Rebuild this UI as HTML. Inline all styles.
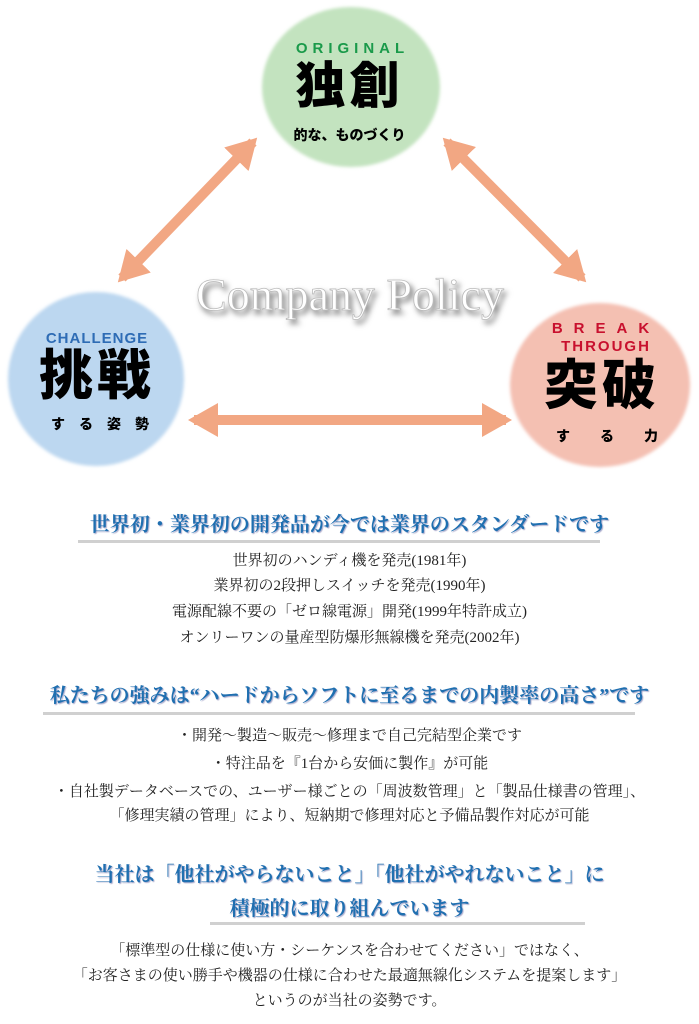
<!DOCTYPE html>
<html><head><meta charset="utf-8"><style>
body{margin:0;width:699px;height:1024px;background:#fff;position:relative;overflow:hidden;font-family:"Liberation Serif","Noto Serif CJK JP","Noto Serif CJK SC",serif}
.t{position:absolute;left:0;width:699px;text-align:center;white-space:nowrap}
.h{color:#1f6fb0;font-weight:bold;font-size:20px;text-shadow:1px 1px 1px #aac}
.b{color:#222;font-size:15px}
.ul{position:absolute;height:3px;background:#d0d0d0}
.g{font-family:"Liberation Sans","Noto Sans CJK JP",sans-serif;font-weight:900}
</style></head><body>
<svg width="699" height="470" style="position:absolute;left:0;top:0">
<defs><filter id="bl"><feGaussianBlur stdDeviation="1.5"/></filter>
<marker id="ah" markerUnits="userSpaceOnUse" markerWidth="34" markerHeight="34" refX="24" refY="17" orient="auto-start-reverse"><polygon points="0,0 30,17 0,34" fill="#f2a783"/></marker></defs>
<ellipse cx="351" cy="87" rx="89" ry="80" fill="#c3e3bf" filter="url(#bl)"/>
<ellipse cx="96" cy="379" rx="88" ry="87" fill="#bcd7f0" filter="url(#bl)"/>
<ellipse cx="600" cy="385" rx="90" ry="82" fill="#f4c0b2" filter="url(#bl)"/>
<g stroke="#f2a783" stroke-width="10">
<line x1="122" y1="278" x2="253" y2="142" marker-start="url(#ah)" marker-end="url(#ah)"/>
<line x1="447" y1="142" x2="582" y2="278" marker-start="url(#ah)" marker-end="url(#ah)"/>
<line x1="194" y1="420" x2="506" y2="420" marker-start="url(#ah)" marker-end="url(#ah)"/>
</g>
<text x="350" y="310" text-anchor="middle" font-family="Liberation Serif" font-size="46" fill="#fff" stroke="#bbb" stroke-width="0.8" style="filter:drop-shadow(3px 4px 3px rgba(0,0,0,.5))">Company Policy</text>
</svg>
<div class="t g" style="top:40px;font-size:15px;color:#1a9a4a;letter-spacing:5px;left:3px">ORIGINAL</div>
<div class="t g" style="top:58px;font-size:50px;letter-spacing:4px;line-height:56px">独創</div>
<div class="t g" style="top:125px;font-size:14px">的な、ものづくり</div>
<div class="g" style="position:absolute;left:8px;width:178px;text-align:center;top:330px;font-size:15px;color:#2e6cb5;letter-spacing:1px">CHALLENGE</div>
<div class="g" style="position:absolute;left:8px;width:178px;text-align:center;top:346px;font-size:54px;letter-spacing:4px;line-height:60px">挑戦</div>
<div class="g" style="position:absolute;left:8px;width:178px;text-align:center;top:414px;font-size:14px;letter-spacing:14px;padding-left:10px">する姿勢</div>
<div class="g" style="position:absolute;left:512px;width:180px;text-align:center;top:320px;font-size:15px;color:#c8102e;letter-spacing:11px;line-height:18px;padding-left:4px">BREAK<br><span style="letter-spacing:2px">THROUGH</span></div>
<div class="g" style="position:absolute;left:512px;width:180px;text-align:center;top:356px;font-size:54px;letter-spacing:4px;line-height:60px">突破</div>
<div class="g" style="position:absolute;left:512px;width:180px;text-align:center;top:426px;font-size:14px;letter-spacing:30px;padding-left:20px">する力</div>

<div class="t h" style="top:508px">世界初・業界初の開発品が今では業界のスタンダードです</div>
<div class="ul" style="left:78px;width:522px;top:540px"></div>
<div class="t b" style="top:549px">世界初のハンディ機を発売(1981年)</div>
<div class="t b" style="top:574px">業界初の2段押しスイッチを発売(1990年)</div>
<div class="t b" style="top:600px">電源配線不要の「ゼロ線電源」開発(1999年特許成立)</div>
<div class="t b" style="top:626px">オンリーワンの量産型防爆形無線機を発売(2002年)</div>

<div class="t h" style="top:679px">私たちの強みは“ハードからソフトに至るまでの内製率の高さ”です</div>
<div class="ul" style="left:43px;width:592px;top:712px"></div>
<div class="t b" style="top:724px">・開発〜製造〜販売〜修理まで自己完結型企業です</div>
<div class="t b" style="top:752px">・特注品を『1台から安価に製作』が可能</div>
<div class="t b" style="top:780px">・自社製データベースでの、ユーザー様ごとの「周波数管理」と「製品仕様書の管理」、</div>
<div class="t b" style="top:804px">「修理実績の管理」により、短納期で修理対応と予備品製作対応が可能</div>

<div class="t h" style="top:858px">当社は「他社がやらないこと」「他社がやれないこと」に</div>
<div class="t h" style="top:892px">積極的に取り組んでいます</div>
<div class="ul" style="left:210px;width:375px;top:922px"></div>
<div class="t b" style="top:939px">「標準型の仕様に使い方・シーケンスを合わせてください」ではなく、</div>
<div class="t b" style="top:964px">「お客さまの使い勝手や機器の仕様に合わせた最適無線化システムを提案します」</div>
<div class="t b" style="top:989px">というのが当社の姿勢です。</div>
</body></html>
